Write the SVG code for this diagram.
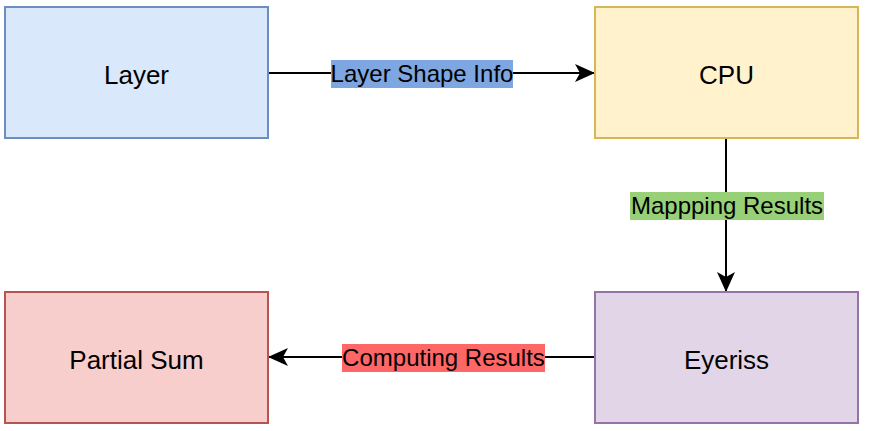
<svg xmlns="http://www.w3.org/2000/svg" width="870" height="431" viewBox="0 0 870 431">
<defs>
<marker id="arr" markerUnits="userSpaceOnUse" markerWidth="24" markerHeight="24" viewBox="0 0 24 24" refX="20" refY="12" orient="auto">
<path d="M0,3 L20,12 L0,21 L5,12 Z" fill="#000"/>
</marker>
<style>
.n{stroke-width:2}
.t{font-family:"Liberation Sans",Arial,sans-serif;font-size:26px;text-anchor:middle;fill:#000}
.l{font-family:"Liberation Sans",Arial,sans-serif;font-size:24px;text-anchor:middle;fill:#000}
.c{stroke:#000;stroke-width:2;fill:none}
</style>
</defs>
<rect width="870" height="431" fill="#fff"/>
<g id="connectors">
<path class="c" d="M268,73 L595,73" marker-end="url(#arr)"/>
<path class="c" d="M726,138 L726,292" marker-end="url(#arr)"/>
<path class="c" d="M595,357 L268,357" marker-end="url(#arr)"/>
<rect x="331" y="60" width="182" height="28" fill="#7EA6E0"/>
<text class="l" x="422" y="81.5">Layer Shape Info</text>
<rect x="630" y="192" width="194" height="28" fill="#97D077"/>
<text class="l" x="727" y="213.5">Mappping Results</text>
<rect x="342" y="344" width="203" height="28" fill="#FF6666"/>
<text class="l" x="443.5" y="365.5">Computing Results</text>
</g>
<g id="layer"><rect class="n" x="5" y="7" width="263" height="131" fill="#dae8fc" stroke="#6c8ebf"/><text class="t" x="136.5" y="83.5">Layer</text></g>
<g id="cpu"><rect class="n" x="595" y="7" width="263" height="131" fill="#fff2cc" stroke="#d6b656"/><text class="t" x="726.5" y="83.5">CPU</text></g>
<g id="partial-sum"><rect class="n" x="5" y="292" width="263" height="131" fill="#f8cecc" stroke="#b85450"/><text class="t" x="136.5" y="368.5">Partial Sum</text></g>
<g id="eyeriss"><rect class="n" x="595" y="292" width="263" height="131" fill="#e1d5e7" stroke="#9673a6"/><text class="t" x="726.5" y="368.5">Eyeriss</text></g>
</svg>
